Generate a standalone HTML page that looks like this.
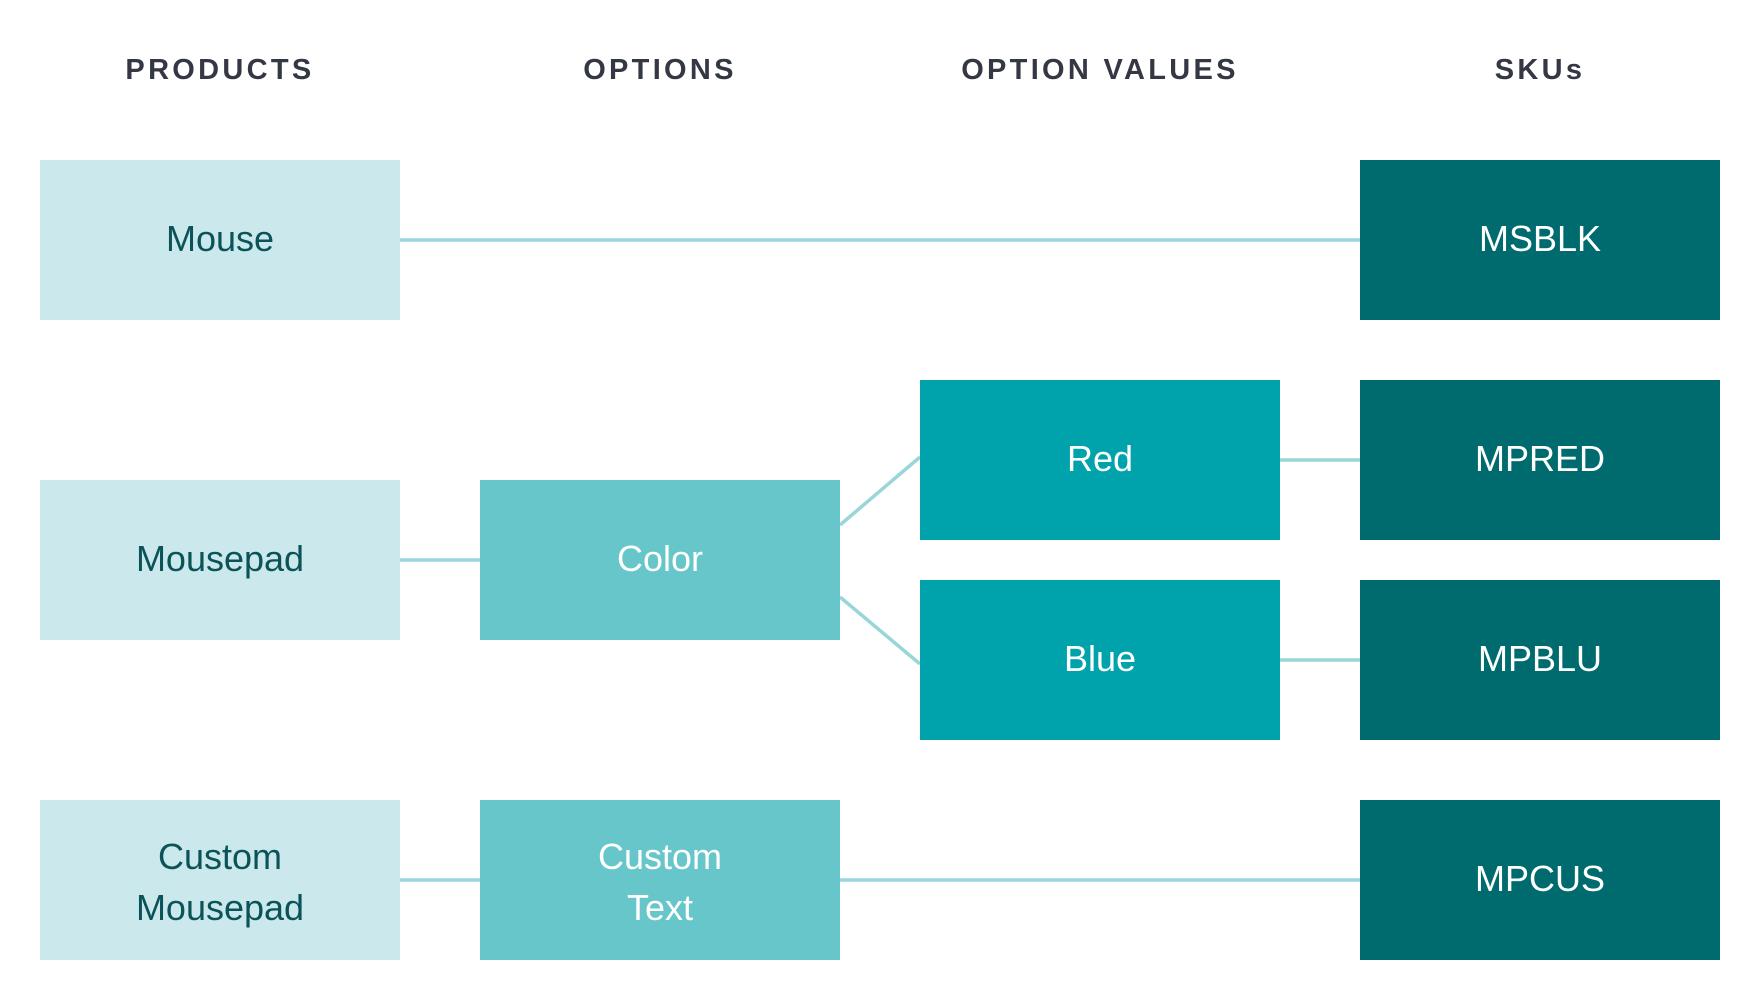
<!DOCTYPE html>
<html><head><meta charset="utf-8"><style>
body{margin:0;width:1760px;height:1000px;background:#fff;position:relative;overflow:hidden;font-family:"Liberation Sans",sans-serif}
.h{position:absolute;top:50px;width:360px;text-align:center;font-weight:bold;font-size:29px;letter-spacing:3.3px;color:#333844;line-height:40px}
.b{position:absolute;width:360px;height:160px;display:flex;align-items:center;justify-content:center;text-align:center;font-size:36px;line-height:51px;box-sizing:border-box;padding-bottom:4px}
.b.t{padding-bottom:0;padding-top:4px}
.l{background:#cbe9ec;color:#0b5359}
.m{background:#66c6ca;color:#fff}
.v{background:#00a2ab;color:#fff}
.d{background:#006b6e;color:#fff}
svg{position:absolute;left:0;top:0}
</style></head><body>
<svg width="1760" height="1000"><g stroke="#99d6da" stroke-width="3.5" fill="none">
<line x1="400" y1="240" x2="1360" y2="240"/>
<line x1="400" y1="560" x2="480" y2="560"/>
<line x1="840" y1="525" x2="920" y2="457"/>
<line x1="840" y1="597" x2="920" y2="664"/>
<line x1="1280" y1="460" x2="1360" y2="460"/>
<line x1="1280" y1="660" x2="1360" y2="660"/>
<line x1="400" y1="880" x2="480" y2="880"/>
<line x1="840" y1="880" x2="1360" y2="880"/>
</g></svg>
<div class="h" style="left:40px">PRODUCTS</div>
<div class="h" style="left:480px">OPTIONS</div>
<div class="h" style="left:920px">OPTION VALUES</div>
<div class="h" style="left:1360px">SKUs</div>
<div class="b l" style="left:40px;top:160px">Mouse</div>
<div class="b l" style="left:40px;top:480px">Mousepad</div>
<div class="b l t" style="left:40px;top:800px">Custom<br>Mousepad</div>
<div class="b m" style="left:480px;top:480px">Color</div>
<div class="b m t" style="left:480px;top:800px">Custom<br>Text</div>
<div class="b v" style="left:920px;top:380px">Red</div>
<div class="b v" style="left:920px;top:580px">Blue</div>
<div class="b d" style="left:1360px;top:160px">MSBLK</div>
<div class="b d" style="left:1360px;top:380px">MPRED</div>
<div class="b d" style="left:1360px;top:580px">MPBLU</div>
<div class="b d" style="left:1360px;top:800px">MPCUS</div>
</body></html>
